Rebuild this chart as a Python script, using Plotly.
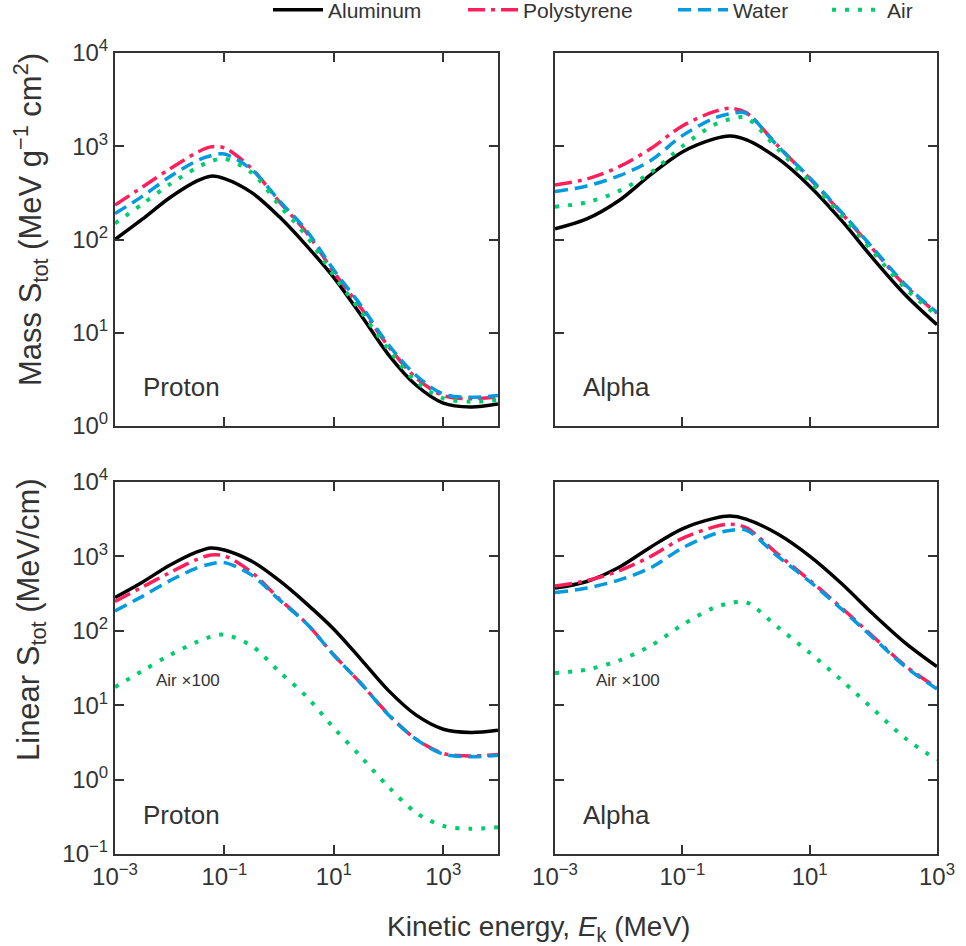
import plotly.graph_objects as go

# ---------------- data ----------------
# Energy grids (MeV)
E_PROTON = [0.001, 0.00316, 0.01, 0.0316, 0.0562, 0.1, 0.316, 1, 3.16, 10, 31.6, 100, 316, 1000, 3160, 10000]
E_ALPHA = [0.001, 0.00316, 0.01, 0.0316, 0.1, 0.316, 0.562, 1, 3.16, 10, 31.6, 100, 316, 1000]

# Mass stopping power, proton (MeV g^-1 cm^2)
mass_p_al = [100, 165, 280, 425, 478, 450, 318, 176, 86, 39, 15.3, 5.8, 2.75, 1.76, 1.6, 1.72]
mass_p_ps = [234, 365, 570, 860, 985, 960, 575, 255, 119, 44.6, 18.3, 7.1, 3.3, 2.12, 1.96, 2.05]
mass_p_water = [190, 290, 470, 700, 790, 825, 560, 262, 125, 47, 19.5, 7.4, 3.5, 2.2, 2.03, 2.12]
mass_p_air = [149, 240, 390, 590, 690, 735, 520, 235, 109, 41, 16.7, 6.6, 3.0, 1.98, 1.82, 1.9]

# Mass stopping power, alpha
mass_a_al = [130, 166, 260, 493, 869, 1200, 1290, 1175, 740, 373, 160, 62, 25.6, 12.2]
mass_a_ps = [384, 445, 600, 940, 1650, 2350, 2550, 2300, 1010, 450, 192, 78, 32, 16.2]
mass_a_water = [326, 375, 480, 700, 1300, 2000, 2230, 2260, 1000, 460, 196, 80, 33, 16.5]
mass_a_air = [225, 250, 330, 520, 1000, 1700, 1950, 2020, 930, 420, 180, 73, 30, 15.3]

# Linear stopping power, proton (MeV/cm); air shown x100
lin_p_al = [280, 450, 760, 1150, 1300, 1220, 860, 475, 232, 105, 41, 15.7, 7.4, 4.75, 4.3, 4.6]
lin_p_ps = [248, 387, 604, 912, 1044, 1018, 610, 270, 126, 47.3, 19.4, 7.5, 3.5, 2.25, 2.08, 2.17]
lin_p_water = [185, 290, 470, 700, 790, 825, 560, 262, 125, 47, 19.5, 7.4, 3.5, 2.2, 2.03, 2.12]
lin_p_air100 = [17.5, 28.9, 47, 71, 83, 88.6, 62.7, 28.3, 13.1, 4.94, 2.01, 0.795, 0.36, 0.239, 0.219, 0.229]

# Linear stopping power, alpha
lin_a_al = [375, 460, 710, 1331, 2346, 3240, 3483, 3173, 1998, 1007, 432, 167, 69, 33]
lin_a_ps = [400, 472, 636, 996, 1749, 2491, 2703, 2440, 1071, 477, 204, 83, 34, 17.2]
lin_a_water = [326, 375, 480, 700, 1300, 2000, 2230, 2260, 1000, 460, 196, 80, 33, 16.5]
lin_a_air100 = [27.1, 30.1, 39.8, 62.7, 120, 205, 235, 243, 112, 50.6, 21.7, 8.8, 3.6, 1.84]

MATERIALS = ["Aluminum", "Polystyrene", "Water", "Air"]

# ---------------- styles ----------------
FONT = "Liberation Sans, Arial, sans-serif"
TXT = "#333333"
STYLE = {
    "Aluminum": dict(color="#000000", dash="solid", width=3.5),
    "Polystyrene": dict(color="#FF1F5B", dash="17px,6px,4px,6px", width=3.5),
    "Water": dict(color="#009ADE", dash="13px,7px", width=3.5),
    "Air": dict(color="#00CD6C", dash="4px,9px", width=4),
}
LEGEND_W = {"Aluminum": 130, "Polystyrene": 145, "Water": 89, "Air": 60}

fig = go.Figure()

panels = [
    ("x", "y", E_PROTON, [mass_p_al, mass_p_ps, mass_p_water, mass_p_air], True),
    ("x2", "y2", E_ALPHA, [mass_a_al, mass_a_ps, mass_a_water, mass_a_air], False),
    ("x3", "y3", E_PROTON, [lin_p_al, lin_p_ps, lin_p_water, lin_p_air100], False),
    ("x4", "y4", E_ALPHA, [lin_a_al, lin_a_ps, lin_a_water, lin_a_air100], False),
]
for xa, ya, E, series, show in panels:
    for name, vals in zip(MATERIALS, series):
        fig.add_trace(go.Scatter(
            x=E, y=vals, mode="lines", name=name, xaxis=xa, yaxis=ya,
            line=dict(shape="spline", smoothing=0.9, **STYLE[name]),
            showlegend=show, legendgroup=name, legendwidth=LEGEND_W[name],
        ))

def sup(n):
    s = str(n).replace("-", "\u2212")
    return f"10<sup>{s}</sup>"

xt = [-3, -1, 1, 3]
left = [115 / 966, 498 / 966]
right = [555 / 966, 937 / 966]
top = [1 - 426 / 946, 1 - 53 / 946]
bot = [1 - 854 / 946, 1 - 482 / 946]

common = dict(type="log", showline=True, linewidth=2, linecolor=TXT, mirror="ticks",
              ticks="inside", ticklen=9, tickwidth=2, tickcolor=TXT, showgrid=False,
              zeroline=False, automargin=False,
              tickfont=dict(family=FONT, size=24, color=TXT))

def xaxis(domain, rng, anchor, labels):
    d = dict(common)
    d.update(domain=domain, range=rng, anchor=anchor,
             tickvals=[10 ** v for v in xt], ticktext=[sup(v) for v in xt],
             showticklabels=labels)
    return d

def yaxis(domain, rng, anchor, labels, vals):
    d = dict(common)
    d.update(domain=domain, range=rng, anchor=anchor,
             tickvals=[10 ** v for v in vals], ticktext=[sup(v) for v in vals],
             showticklabels=labels)
    return d

fig.update_layout(
    template="none",
    width=966, height=946,
    margin=dict(l=0, r=0, t=0, b=0, autoexpand=False),
    paper_bgcolor="white", plot_bgcolor="white",
    font=dict(family=FONT, color=TXT),
    xaxis=xaxis(left, [-3, 4], "y", False),
    yaxis=yaxis(top, [0, 4], "x", True, [0, 1, 2, 3, 4]),
    xaxis2=xaxis(right, [-3, 3], "y2", False),
    yaxis2=yaxis(top, [0, 4], "x2", False, [0, 1, 2, 3, 4]),
    xaxis3=xaxis(left, [-3, 4], "y3", True),
    yaxis3=yaxis(bot, [-1, 4], "x3", True, [-1, 0, 1, 2, 3, 4]),
    xaxis4=xaxis(right, [-3, 3], "y4", True),
    yaxis4=yaxis(bot, [-1, 4], "x4", False, [-1, 0, 1, 2, 3, 4]),
    legend=dict(orientation="h", x=268 / 966, xanchor="left", y=1.011, yanchor="top",
                font=dict(family=FONT, size=21, color=TXT), bgcolor="rgba(0,0,0,0)",
                itemwidth=50, tracegroupgap=0, borderwidth=0),
)

ann = [
    dict(text="Kinetic energy, <i>E</i><sub>k</sub> (MeV)", x=538 / 966, y=1 - 928 / 946, size=28, angle=0, xanchor="center"),
    dict(text="Mass S<sub>tot</sub> (MeV g<sup>\u22121</sup> cm<sup>2</sup>)", x=31 / 966, y=1 - 220 / 946, size=31, angle=-90, xanchor="center"),
    dict(text="Linear S<sub>tot</sub> (MeV/cm)", x=31 / 966, y=1 - 620 / 946, size=31, angle=-90, xanchor="center"),
    dict(text="Proton", x=141 / 966, y=1 - 387 / 946, size=26, angle=0, xanchor="left"),
    dict(text="Alpha", x=581 / 966, y=1 - 387 / 946, size=26, angle=0, xanchor="left"),
    dict(text="Proton", x=141 / 966, y=1 - 815 / 946, size=26, angle=0, xanchor="left"),
    dict(text="Alpha", x=581 / 966, y=1 - 815 / 946, size=26, angle=0, xanchor="left"),
    dict(text="Air \u00d7100", x=154 / 966, y=1 - 680 / 946, size=17, angle=0, xanchor="left"),
    dict(text="Air \u00d7100", x=594 / 966, y=1 - 680 / 946, size=17, angle=0, xanchor="left"),
]
for a in ann:
    fig.add_annotation(text=a["text"], x=a["x"], y=a["y"], xref="paper", yref="paper",
                       xanchor=a["xanchor"], yanchor="middle", showarrow=False,
                       textangle=a["angle"], font=dict(family=FONT, size=a["size"], color=TXT))

fig.write_html("out.html")
